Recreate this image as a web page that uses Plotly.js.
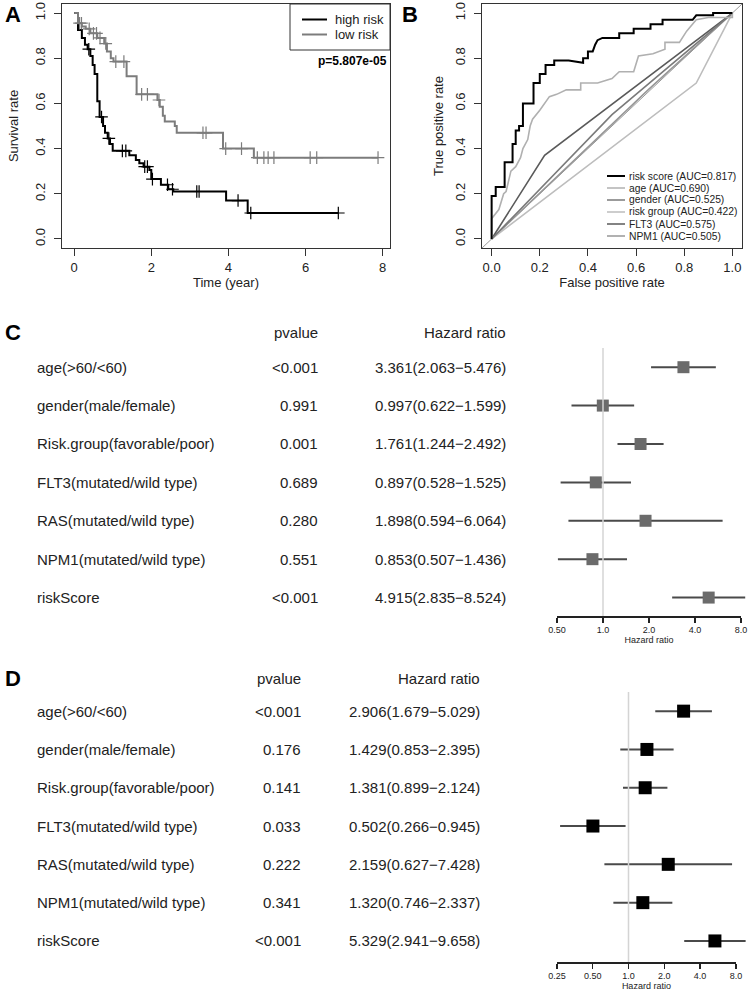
<!DOCTYPE html>
<html>
<head>
<meta charset="utf-8">
<script src="https://cdn.plot.ly/plotly-3.0.1.min.js"></script>
<style>html,body{margin:0;padding:0;background:#fff}</style>
</head>
<body>
<div id="chart" style="width:750px;height:991px"></div>
<script>
// A: Kaplan-Meier steps (time in years, survival after the step)
var highTime = [0, 0.1, 0.2, 0.28, 0.35, 0.42, 0.48, 0.53, 0.6, 0.66, 0.75, 0.8, 0.87, 0.93, 1.0, 1.43, 1.6, 1.69, 1.8, 1.95, 2.0, 2.25, 2.44, 2.57, 3.94, 4.5, 6.85];
var highSurv = [1, 0.925, 0.89, 0.86, 0.84, 0.81, 0.77, 0.73, 0.61, 0.54, 0.5, 0.47, 0.445, 0.42, 0.39, 0.37, 0.35, 0.335, 0.32, 0.305, 0.265, 0.24, 0.22, 0.21, 0.17, 0.115, 0.115];
var highCens = [0.38, 0.71, 0.9, 1.25, 1.34, 1.83, 1.9, 2.03, 2.42, 2.55, 3.18, 3.24, 4.25, 4.58, 6.85];
var lowTime = [0, 0.1, 0.2, 0.3, 0.42, 0.6, 0.78, 0.85, 0.95, 1.02, 1.36, 1.62, 2.16, 2.22, 2.3, 2.35, 2.61, 2.66, 3.86, 4.66, 7.88];
var lowSurv = [1, 0.955, 0.94, 0.93, 0.91, 0.89, 0.865, 0.83, 0.80, 0.785, 0.72, 0.64, 0.615, 0.585, 0.545, 0.52, 0.50, 0.47, 0.40, 0.36, 0.36];
var lowCens = [0.14, 0.19, 0.39, 0.5, 0.58, 0.67, 0.82, 1.08, 1.29, 1.75, 1.9, 2.2, 3.34, 3.42, 3.93, 4.34, 4.75, 4.92, 5.03, 5.18, 6.12, 6.29, 7.88];
var kmNames = ["high risk", "low risk"];
var kmColors = ["#000000", "#7c7c7c"];
var pText = "p=5.807e-05";

// B: ROC curves
var rocNames = ["risk score", "age", "gender", "risk group", "FLT3", "NPM1"];
var rocAUC = ["0.817", "0.690", "0.525", "0.422", "0.575", "0.505"];
var rocColors = ["#000000", "#b0b0b0", "#7a7a7a", "#bdbdbd", "#5a5a5a", "#979797"];
var fprRisk = [0, 0, 0, 0.017, 0.017, 0.054, 0.054, 0.087, 0.087, 0.1, 0.1, 0.114, 0.114, 0.13, 0.13, 0.174, 0.174, 0.2, 0.2, 0.224, 0.224, 0.26, 0.26, 0.32, 0.38, 0.38, 0.4, 0.4, 0.42, 0.43, 0.44, 0.46, 0.53, 0.53, 0.59, 0.59, 0.66, 0.66, 0.71, 0.71, 0.835, 0.85, 0.92, 0.92, 1];
var tprRisk = [0, 0.09, 0.19, 0.19, 0.23, 0.23, 0.34, 0.34, 0.42, 0.42, 0.48, 0.48, 0.5, 0.5, 0.6, 0.6, 0.69, 0.69, 0.73, 0.73, 0.77, 0.77, 0.79, 0.79, 0.78, 0.8, 0.8, 0.83, 0.83, 0.86, 0.88, 0.89, 0.89, 0.91, 0.91, 0.93, 0.93, 0.95, 0.95, 0.97, 0.97, 0.99, 0.99, 1, 1];
var fprAge = [0, 0, 0.03, 0.05, 0.06, 0.07, 0.08, 0.1, 0.12, 0.13, 0.15, 0.16, 0.17, 0.2, 0.24, 0.27, 0.31, 0.37, 0.37, 0.44, 0.5, 0.53, 0.59, 0.61, 0.67, 0.72, 0.72, 0.78, 0.81, 0.85, 0.9, 1, 1];
var tprAge = [0, 0.09, 0.13, 0.2, 0.21, 0.25, 0.3, 0.32, 0.36, 0.4, 0.44, 0.5, 0.53, 0.57, 0.63, 0.64, 0.66, 0.66, 0.69, 0.69, 0.71, 0.74, 0.74, 0.81, 0.82, 0.84, 0.87, 0.87, 0.92, 0.97, 0.98, 0.98, 1];
var fprGender = [0, 0.5, 1];
var tprGender = [0, 0.55, 1];
var fprGroup = [0, 0.85, 1];
var tprGroup = [0, 0.69, 1];
var fprFLT3 = [0, 0.22, 1];
var tprFLT3 = [0, 0.37, 1];
var fprNPM1 = [0, 0.65, 1];
var tprNPM1 = [0, 0.66, 1];

// C / D: forest plots
var varNames = ["age(>60/<60)", "gender(male/female)", "Risk.group(favorable/poor)", "FLT3(mutated/wild type)", "RAS(mutated/wild type)", "NPM1(mutated/wild type)", "riskScore"];
var uniP = ["<0.001", "0.991", "0.001", "0.689", "0.280", "0.551", "<0.001"];
var uniHR = [3.361, 0.997, 1.761, 0.897, 1.898, 0.853, 4.915];
var uniLow = [2.063, 0.622, 1.244, 0.528, 0.594, 0.507, 2.835];
var uniHigh = [5.476, 1.599, 2.492, 1.525, 6.064, 1.436, 8.524];
var multiP = ["<0.001", "0.176", "0.141", "0.033", "0.222", "0.341", "<0.001"];
var multiHR = [2.906, 1.429, 1.381, 0.502, 2.159, 1.320, 5.329];
var multiLow = [1.679, 0.853, 0.899, 0.266, 0.627, 0.746, 2.941];
var multiHigh = [5.029, 2.395, 2.124, 0.945, 7.428, 2.337, 9.658];
var uniTicks = [0.5, 1, 2, 4, 8];
var uniTickText = ["0.50", "1.0", "2.0", "4.0", "8.0"];
var multiTicks = [0.25, 0.5, 1, 2, 4, 8];
var multiTickText = ["0.25", "0.50", "1.0", "2.0", "4.0", "8.0"];

var W = 750, H = 991;
var FONT = "Liberation Sans, Arial, Helvetica, sans-serif";
function px(x) { return x / W; }
function py(y) { return 1 - y / H; }

function survAt(times, surv, t) {
    var s = surv[0];
    for (var i = 0; i < times.length; i++) {
        if (times[i] <= t) s = surv[i];
    }
    return s;
}

var traces = [];

// A
var kmTimes = [highTime, lowTime], kmSurv = [highSurv, lowSurv], kmCens = [highCens, lowCens];
for (var g = 0; g < 2; g++) {
    traces.push({x: kmTimes[g], y: kmSurv[g], mode: "lines", line: {shape: "hv", color: kmColors[g], width: 2},
        name: kmNames[g], showlegend: false, xaxis: "x", yaxis: "y"});
    traces.push({x: kmCens[g], y: kmCens[g].map(function(t) { return survAt(kmTimes[g], kmSurv[g], t); }),
        mode: "markers", marker: {symbol: "cross-thin", size: 9, line: {width: 1.2, color: kmColors[g]}},
        showlegend: false, xaxis: "x", yaxis: "y"});
}

// B
traces.push({x: [-0.04, 1.04], y: [-0.04, 1.04], mode: "lines", line: {color: "#9a9a9a", width: 1},
    showlegend: false, xaxis: "x2", yaxis: "y2"});
var rocX = [fprRisk, fprAge, fprGender, fprGroup, fprFLT3, fprNPM1];
var rocY = [tprRisk, tprAge, tprGender, tprGroup, tprFLT3, tprNPM1];
for (var k = rocX.length - 1; k >= 0; k--) {
    traces.push({x: rocX[k], y: rocY[k], mode: "lines", name: rocNames[k],
        line: {color: rocColors[k], width: k === 0 ? 2 : 1.6},
        showlegend: false, xaxis: "x2", yaxis: "y2"});
}

// forest helpers
function ciX(lo, hi) {
    var out = [];
    for (var i = 0; i < lo.length; i++) out.push(lo[i], hi[i], null);
    return out;
}
function ciY(n) {
    var out = [];
    for (var i = 0; i < n; i++) out.push(i, i, null);
    return out;
}
var rows = varNames.map(function(d, i) { return i; });

// C (reference line sits on the visible HR axis so that axis gets drawn)
traces.push({x: [1, 1], y: [-0.5, 6.48], mode: "lines", line: {color: "#d4d4d4", width: 1.5},
    showlegend: false, xaxis: "x4", yaxis: "y3"});
traces.push({x: ciX(uniLow, uniHigh), y: ciY(uniHR.length), mode: "lines", line: {color: "#4a4a4a", width: 2},
    showlegend: false, xaxis: "x3", yaxis: "y3"});
traces.push({x: uniHR, y: rows, mode: "markers", marker: {symbol: "square", size: 12, color: "#6b6b6b"},
    showlegend: false, xaxis: "x3", yaxis: "y3"});

// D
traces.push({x: [1, 1], y: [-0.5, 6.55], mode: "lines", line: {color: "#d4d4d4", width: 1.5},
    showlegend: false, xaxis: "x6", yaxis: "y5"});
traces.push({x: ciX(multiLow, multiHigh), y: ciY(multiHR.length), mode: "lines", line: {color: "#4a4a4a", width: 2},
    showlegend: false, xaxis: "x5", yaxis: "y5"});
traces.push({x: multiHR, y: rows, mode: "markers", marker: {symbol: "square", size: 13, color: "#000"},
    showlegend: false, xaxis: "x5", yaxis: "y5"});

// log axis range for a pixel span (centre = HR 1, pixels per doubling)
function logRange(left, right, centre, perDouble) {
    return [(left - centre) / perDouble * Math.LOG10E * Math.LN2, (right - centre) / perDouble * Math.LOG10E * Math.LN2];
}
// pixel position of a HR value
function hrPx(v, centre, perDouble) {
    return centre + perDouble * Math.log(v) / Math.LN2;
}

function merge(a, b) {
    var o = {};
    for (var k in a) o[k] = a[k];
    for (var k2 in b) o[k2] = b[k2];
    return o;
}

var axisBase = {showgrid: false, zeroline: false, showline: true, mirror: true, linecolor: "#333", linewidth: 1,
    ticks: "outside", ticklen: 7, tickcolor: "#333", tickfont: {size: 13, color: "#222"}};
var fracTicks = [0, 0.2, 0.4, 0.6, 0.8, 1];
var fracText = ["0.0", "0.2", "0.4", "0.6", "0.8", "1.0"];
var hrAxis = {type: "log", showline: true, linecolor: "#222", linewidth: 1.5, showgrid: false, zeroline: false,
    ticks: "outside", ticklen: 5, tickwidth: 1.5, tickcolor: "#222", tickfont: {size: 9, color: "#222"},
    ticklabelstandoff: 0, title: {text: "Hazard ratio", font: {size: 9}, standoff: 0}};

var cC = 603, perC = 46, cD = 628.5, perD = 35.8;
var uniFirst = uniTicks[0], uniLast = uniTicks[uniTicks.length - 1];
var multiFirst = multiTicks[0], multiLast = multiTicks[multiTicks.length - 1];

var kmTop = 4, kmBottom = 248;
var layout = {
    width: W, height: H,
    margin: {l: 0, r: 0, t: 0, b: 0},
    paper_bgcolor: "#fff",
    plot_bgcolor: "rgba(0,0,0,0)",
    font: {family: FONT, color: "#222"},
    showlegend: false,
    xaxis: merge(axisBase, {domain: [px(62), px(390)], anchor: "y", range: [-0.315, 8.19],
        tickvals: [0, 2, 4, 6, 8], ticklabelstandoff: 0, title: {text: "Time (year)", font: {size: 13}, standoff: 3}}),
    yaxis: merge(axisBase, {domain: [py(kmBottom), py(kmTop)], anchor: "x", range: [-0.04, 1.04],
        tickvals: fracTicks, ticktext: fracText, tickangle: -90, ticklabelstandoff: 4,
        title: {text: "Survival rate", font: {size: 13}, standoff: 11}}),
    xaxis2: merge(axisBase, {domain: [px(482), px(742)], anchor: "y2", range: [-0.04, 1.04],
        tickvals: fracTicks, ticktext: fracText, ticklabelstandoff: 0,
        title: {text: "False positive rate", font: {size: 13}, standoff: 3}}),
    yaxis2: merge(axisBase, {domain: [py(kmBottom), py(kmTop)], anchor: "x2", range: [-0.04, 1.04],
        tickvals: fracTicks, ticktext: fracText, tickangle: -90, ticklabelstandoff: 4,
        title: {text: "True positive rate", font: {size: 13}, standoff: 6}}),

    // C: data axes (hidden) + visible hazard ratio axis on the same scale
    yaxis3: {domain: [py(616), py(348)], range: [6.48, -0.5], visible: false, anchor: "x3"},
    xaxis3: {domain: [px(540), px(750)], type: "log", range: logRange(540, 750, cC, perC), visible: false, anchor: "y3"},
    xaxis4: merge(hrAxis, {domain: [px(hrPx(uniFirst, cC, perC)), px(hrPx(uniLast, cC, perC))],
        range: [Math.log10(uniFirst), Math.log10(uniLast)], anchor: "y3",
        tickvals: uniTicks, ticktext: uniTickText}),

    // D
    yaxis5: {domain: [py(962), py(692)], range: [6.55, -0.5], visible: false, anchor: "x5"},
    xaxis5: {domain: [px(540), px(750)], type: "log", range: logRange(540, 750, cD, perD), visible: false, anchor: "y5"},
    xaxis6: merge(hrAxis, {domain: [px(hrPx(multiFirst, cD, perD)), px(hrPx(multiLast, cD, perD))],
        range: [Math.log10(multiFirst), Math.log10(multiLast)], anchor: "y5",
        tickvals: multiTicks, ticktext: multiTickText}),

    annotations: [],
    shapes: []
};

var ann = layout.annotations;
function label(text, x, y, opts) {
    ann.push(merge({text: text, x: px(x), y: py(y), xref: "paper", yref: "paper", showarrow: false,
        xanchor: "left", yanchor: "middle", font: {size: 15, color: "#222"}}, opts || {}));
}

// panel letters
label("<b>A</b>", 3, 14, {font: {size: 22, color: "#000"}});
label("<b>B</b>", 400, 14, {font: {size: 22, color: "#000"}});
label("<b>C</b>", 3, 333, {font: {size: 22, color: "#000"}});
label("<b>D</b>", 3, 678, {font: {size: 22, color: "#000"}});

// KM legend box
layout.shapes.push({type: "rect", xref: "paper", yref: "paper", x0: px(290), x1: px(390), y0: py(4), y1: py(50),
    line: {color: "#333", width: 1}, fillcolor: "#fff"});
for (var m = 0; m < kmNames.length; m++) {
    var ky = 19.5 + 15 * m;
    layout.shapes.push({type: "line", xref: "paper", yref: "paper", x0: px(302), x1: px(327), y0: py(ky), y1: py(ky),
        line: {color: kmColors[m], width: 2}});
    label(kmNames[m], 334, ky, {font: {size: 13, color: "#222"}, borderpad: 0});
}
label("<b>" + pText + "</b>", 389, 61, {xanchor: "right", font: {size: 12, color: "#000"}});

// ROC legend
for (var r = 0; r < rocNames.length; r++) {
    var ly = 176 + 12 * r;
    layout.shapes.push({type: "line", xref: "paper", yref: "paper", x0: px(607), x1: px(625), y0: py(ly), y1: py(ly),
        line: {color: rocColors[r], width: r === 0 ? 2 : 1.5}});
    label(rocNames[r] + " (AUC=" + rocAUC[r] + ")", 628, ly, {font: {size: 10.3, color: "#222"}, borderpad: 0});
}

// forest tables: header in page coords, rows on the forest y axis
function table(yref, hdrY, pRight, hrRight, pvals, hr, lo, hi) {
    label("pvalue", pRight, hdrY, {xanchor: "right"});
    label("Hazard ratio", hrRight, hdrY, {xanchor: "right"});
    for (var i = 0; i < varNames.length; i++) {
        var base = {y: i, xref: "paper", yref: yref, showarrow: false, yanchor: "middle", font: {size: 15, color: "#222"}};
        ann.push(merge(base, {text: varNames[i], x: px(35), xanchor: "left"}));
        ann.push(merge(base, {text: pvals[i], x: px(pRight), xanchor: "right"}));
        ann.push(merge(base, {text: hr[i].toFixed(3) + "(" + lo[i].toFixed(3) + "\u2212" + hi[i].toFixed(3) + ")",
            x: px(hrRight), xanchor: "right"}));
    }
}
table("y3", 332, 320, 508, uniP, uniHR, uniLow, uniHigh);
table("y5", 678, 303, 482, multiP, multiHR, multiLow, multiHigh);

Plotly.newPlot("chart", traces, layout, {displayModeBar: false, staticPlot: true});
</script>
</body>
</html>
